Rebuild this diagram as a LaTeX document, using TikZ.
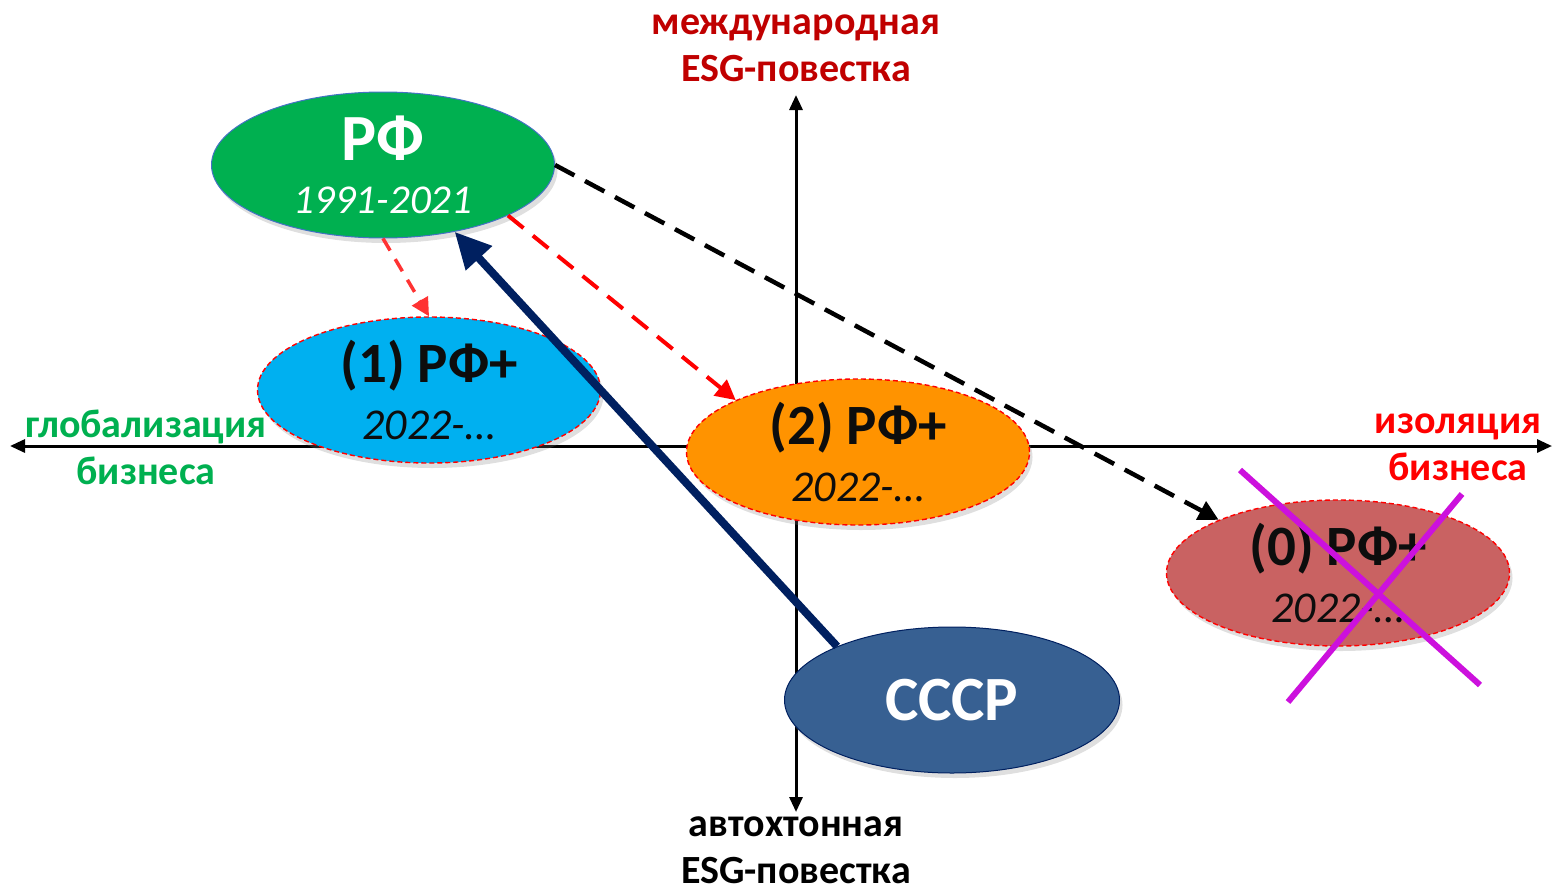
\documentclass[tikz,border=0pt]{standalone}
\usepackage{fontspec}
\setmainfont{Carlito}
\usetikzlibrary{shapes,arrows.meta,positioning,calc,shadows}

\definecolor{rfgreen}{RGB}{0,176,80}
\definecolor{edgeblue}{RGB}{68,114,196}
\definecolor{plusblue}{RGB}{0,176,240}
\definecolor{plusorange}{RGB}{255,147,0}
\definecolor{zerored}{RGB}{201,98,98}
\definecolor{ussrblue}{RGB}{55,96,146}
\definecolor{navy}{RGB}{0,32,96}
\definecolor{darkred}{RGB}{192,0,0}
\definecolor{crossviolet}{RGB}{204,17,221}

\begin{document}
\begin{tikzpicture}[x=1pt, y=-1pt,
    period/.style={ellipse, minimum width=343pt, minimum height=146pt, inner sep=0pt, align=center,
        font=\fontsize{41}{53}\selectfont, drop shadow={opacity=0.25, shadow xshift=3pt, shadow yshift=-5pt}},
    future/.style={period, draw=red, line width=1.4pt, dash pattern=on 5pt off 3pt, text=black!95,
        font=\fontsize{44}{57}\selectfont},
    axislabel/.style={align=center, font=\fontsize{40}{47}\selectfont\bfseries},
    axis/.style={line width=3pt, {Triangle[length=15pt,width=13pt]}-{Triangle[length=15pt,width=13pt]}}
]
    \useasboundingbox (0,0) rectangle (1554,894);

    % Оси
    \coordinate (west) at (10,446);
    \coordinate (east) at (1552,446);
    \coordinate (north) at (796,95);
    \coordinate (south) at (796,812);
    \draw[axis] (west) -- (east);
    \draw[axis] (north) -- (south);

    % Подписи осей
    \node[axislabel, text=darkred] (intl) at (796,48) {международная\\ESG-повестка};
    \node[axislabel] (auto) at (796,850) {автохтонная\\ESG-повестка};
    \node[axislabel, text=rfgreen] (glob) at (146,447) {глобализация\\бизнеса};
    \node[axislabel, text=red] (isol) at (1458,447) {изоляция\\бизнеса};

    % Эллипсы
    \node[period, fill=rfgreen, draw=edgeblue, line width=1pt, text=white] (rf) at (383,165)
        {{\fontsize{66}{66}\selectfont\bfseries РФ}\\{\itshape 1991-2021}};
    \node[future, fill=plusblue] (one) at (429,390)
        {{\fontsize{57}{57}\selectfont\bfseries (1) РФ+}\\{\itshape 2022-…}};
    \node[future, fill=plusorange] (two) at (858,452)
        {{\fontsize{57}{57}\selectfont\bfseries (2) РФ+}\\{\itshape 2022-…}};
    \node[future, fill=zerored] (zero) at (1338,573)
        {{\fontsize{57}{57}\selectfont\bfseries (0) РФ+}\\{\itshape 2022-…}};
    \node[period, fill=ussrblue, draw=navy, line width=1pt, text=white, minimum width=335pt] (ussr) at (952,700)
        {{\fontsize{63}{63}\selectfont\bfseries СССР}};

    % Стрелки
    \draw[line width=4.5pt, dash pattern=on 22pt off 12pt, -{Triangle[length=20pt,width=20pt]}] (rf.0) -- (zero.156);
    \draw[red, line width=4pt, dash pattern=on 20pt off 12pt, -{Triangle[length=20pt,width=20pt]}] (rf.-22) -- (two.157);
    \draw[red!80!white, line width=3.5pt, dash pattern=on 14pt off 10pt, -{Triangle[length=18pt,width=18pt]}] (rf.south) -- (one.north);
    \draw[navy, line width=8pt, -{Triangle[length=36pt,width=34pt]}] (ussr.155) -- (rf.-43);

    % Крест
    \coordinate (c1) at (1240,470);
    \coordinate (c2) at (1480,685);
    \coordinate (c3) at (1462,494);
    \coordinate (c4) at (1288,702);
    \draw[crossviolet, line width=6pt] (c1) -- (c2);
    \draw[crossviolet, line width=6pt] (c3) -- (c4);

\end{tikzpicture}
\end{document}
